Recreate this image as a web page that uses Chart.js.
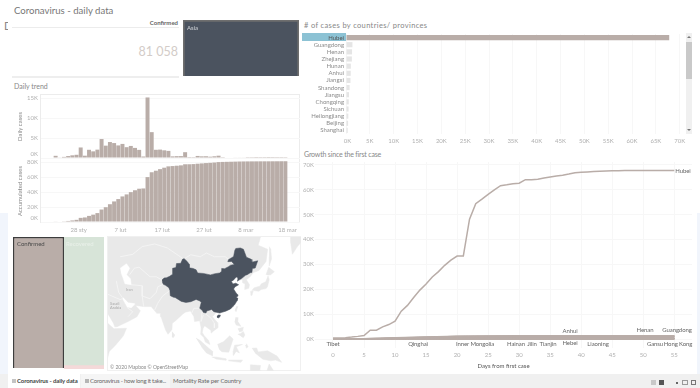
<!DOCTYPE html>
<html>
<head>
<meta charset="utf-8">
<script src="https://cdn.jsdelivr.net/npm/chart.js@4/dist/chart.umd.min.js"></script>
<style>
html, body { margin: 0; padding: 0; background: #fff; overflow: hidden; }
body { width: 700px; height: 388px; position: relative; font-family: Lato, sans-serif; color: #777; filter: blur(0.35px); }
canvas { position: absolute; }
.t { position: absolute; white-space: nowrap; line-height: 1; }
.box { position: absolute; box-sizing: border-box; }
.end { position: absolute; font-size: 6px; letter-spacing: -0.1px; color: #666; white-space: nowrap; line-height: 1; transform: translate(-50%, -50%); }
.arrow { position: absolute; width: 0; height: 0; border-left: 2px solid transparent; border-right: 2px solid transparent; }
</style>
</head>
<body>
<div class="box" style="left:0;top:213px;width:8px;height:161px;background:#f1f5fc"></div>
<div class="box" style="left:697px;top:213px;width:3px;height:161px;background:#f1f5fc"></div>

<div class="t" style="left:14px;top:6px;font-size:9.6px;color:#777">Coronavirus - daily data</div>
<div class="t" style="left:4px;top:20px;width:4px;overflow:hidden;font-size:11px;color:#888">D</div>

<div class="box" style="left:12px;top:27px;width:167px;height:1px;background:#ececec"></div>
<div class="box" style="left:12px;top:76px;width:167px;height:2px;background:#eeeeee"></div>
<div class="t" style="right:522px;top:20px;font-size:6px;font-weight:700;color:#666">Confirmed</div>
<div class="t" style="right:522px;top:46px;font-size:12.5px;color:#d3ccc8">81 058</div>

<div class="t" style="left:14px;top:83px;font-size:7px;color:#888">Daily trend</div>
<div class="box" style="left:40px;top:94px;width:260px;height:65px;border:1px solid #ececec"></div>
<div class="box" style="left:40px;top:158px;width:260px;height:65px;border:1px solid #ececec;border-top:none"></div>

<div class="t" style="left:304px;top:22px;font-size:7.5px;letter-spacing:0.35px;color:#888"># of cases by countries/ provinces</div>
<div class="box" style="left:302px;top:33px;width:44px;height:8px;background:#8cc2d4"></div>
<div class="box" style="left:686px;top:33px;width:6px;height:101px;background:#f0f0f0"></div>
<div class="box" style="left:686px;top:42px;width:6px;height:37px;background:#c9c9c9"></div>
<div class="arrow" style="left:687px;top:36px;border-bottom:2px solid #777"></div>
<div class="arrow" style="left:687px;top:129px;border-top:2px solid #777"></div>

<div class="t" style="left:304px;top:151px;font-size:7px;letter-spacing:-0.18px;color:#888">Growth since the first case</div>

<div class="box" style="left:107px;top:236px;width:194px;height:135px;border:1px solid #f0f0f0"></div>

<canvas id="dailyChart" width="287" height="70" style="left:13px;top:90px"></canvas>
<canvas id="totalChart" width="287" height="85" style="left:13px;top:155px"></canvas>
<canvas id="provinceChart" width="386" height="120" style="left:300px;top:30px"></canvas>
<canvas id="growthChart" width="400" height="215" style="left:300px;top:155px"></canvas>
<canvas id="asiaCell" width="118" height="58" style="left:182px;top:19px"></canvas>
<canvas id="confirmedCell" width="53" height="133" style="left:12px;top:236px"></canvas>
<canvas id="recoveredCell" width="40" height="132" style="left:64px;top:237px"></canvas>
<canvas id="mapChart" width="193" height="134" style="left:108px;top:237px"></canvas>

<div class="t" style="left:187px;top:25px;font-size:6px;color:#d5d8dc">Asia</div>
<div class="t" style="left:17px;top:241px;font-size:6px;color:#4a4a4a">Confirmed</div>
<div class="t" style="left:66px;top:241px;font-size:6px;color:#e9f0e9">Recovered</div>
<div class="t" style="left:110px;top:365px;font-size:5px;color:#888">© 2020 Mapbox © OpenStreetMap</div>
<div class="t" style="left:126px;top:288px;font-size:4px;color:#aaa">Iran</div>
<div class="t" style="left:110px;top:302px;font-size:4px;color:#aaa;line-height:1.1">Saudi<br>Arabia</div>

<div id="ends"></div>

<div class="box" style="left:0;top:374px;width:700px;height:14px;background:#f0f0f0"></div>
<div class="box" style="left:8px;top:374px;width:72px;height:14px;background:#fff"></div>
<div class="box" style="left:81px;top:374px;width:89px;height:14px;background:#f5f5f5"></div>
<div class="box" style="left:12px;top:379px;width:4px;height:4px;background:#c4c4c4"></div>
<div class="box" style="left:85px;top:379px;width:4px;height:4px;background:#b5b5b5"></div>
<div class="t" style="left:17px;top:378px;font-size:6px;letter-spacing:-0.1px;font-weight:700;color:#444">Coronavirus - daily data</div>
<div class="t" style="left:90px;top:378px;font-size:6px;letter-spacing:-0.22px;color:#666">Coronavirus - how long it take...</div>
<div class="t" style="left:173px;top:378px;font-size:6px;letter-spacing:-0.1px;color:#666">Mortality Rate per Country</div>
<div class="box" style="left:651px;top:380px;width:5px;height:5px;background:#c8c8c8"></div>
<div class="box" style="left:659px;top:380px;width:5px;height:5px;background:#555"></div>
<div class="box" style="left:676px;top:382px;width:2px;height:2px;background:#666"></div>
<div class="box" style="left:682px;top:380px;width:6px;height:5px;border:1px solid #999"></div>
<div class="box" style="left:691px;top:380px;width:5px;height:5px;border:1px solid #777"></div>

<script>
// daily trend
const dayLabels = ['19 sty','20 sty','21 sty','22 sty','23 sty','24 sty','25 sty','26 sty','27 sty','28 sty','29 sty','30 sty','31 sty',
    '1 lut','2 lut','3 lut','4 lut','5 lut','6 lut','7 lut','8 lut','9 lut','10 lut','11 lut','12 lut','13 lut','14 lut','15 lut','16 lut','17 lut','18 lut','19 lut','20 lut','21 lut','22 lut','23 lut','24 lut','25 lut','26 lut','27 lut','28 lut','29 lut',
    '1 mar','2 mar','3 mar','4 mar','5 mar','6 mar','7 mar','8 mar','9 mar','10 mar','11 mar','12 mar','13 mar','14 mar','15 mar','16 mar','17 mar','18 mar','19 mar','20 mar'];
const shownDays = ['28 sty','7 lut','17 lut','27 lut','8 mar','18 mar'];
const dailyCases = [null,null,null,548,95,277,486,669,802,2632,578,2054,1661,
    2089,4739,3086,3991,3733,3147,3523,2704,3015,2525,2032,373,15136,6463,2055,2100,1921,1777,408,458,473,1451,21,219,513,412,434,328,428,
    576,208,129,126,143,146,102,46,45,20,31,26,11,18,27,29,39];
const totalCases = [null,null,null,548,643,920,1406,2075,2877,5509,6087,8141,9802,
    11891,16630,19716,23707,27440,30587,34110,36814,39829,42354,44386,44759,59895,66358,68413,70513,72434,74211,74619,75077,75550,77001,77022,77241,77754,78166,78600,78928,79356,
    79932,80136,80261,80386,80537,80690,80770,80823,80860,80887,80921,80932,80945,80977,81003,81033,81058];
const dailyTicks = [0, 5000, 10000, 15000];
const totalTicks = [0, 20000, 40000, 60000, 80000];

// cases by province
const provinces = ['Hubei','Guangdong','Henan','Zhejiang','Hunan','Anhui','Jiangxi','Shandong','Jiangsu','Chongqing','Sichuan','Heilongjiang','Beijing','Shanghai'];
const provinceCases = [67800,1350,1273,1232,1018,990,936,761,631,576,539,482,442,358];
const provinceTicks = [0,5000,10000,15000,20000,25000,30000,35000,40000,45000,50000,55000,60000,65000,70000];

// growth since the first case
const hubeiGrowth = [444,444,549,761,1058,1423,3554,3554,4903,5806,7153,11177,13522,16678,19665,22112,24953,27100,29631,31728,33366,33366,48206,54406,56249,58182,59989,61682,62031,62442,62662,64084,64084,64287,64786,65187,65596,65914,66337,66907,67103,67217,67332,67466,67592,67666,67707,67743,67760,67773,67781,67786,67790,67794,67798,67799];
const sampleDays = [0,5,10,15,20,25,30,40,55];
const guangdong = [26,151,520,870,1120,1300,1330,1345,1350];
const henan = [5,128,422,764,1073,1212,1262,1272,1273];
const zhejiang = [5,104,296,728,1092,1162,1205,1215,1232];
const hunan = [4,69,277,593,838,968,1007,1018,1018];
const anhui = [1,70,237,480,779,950,986,990,990];
const jiangxi = [2,48,240,391,661,844,934,936,936];
const shandong = [2,46,178,307,459,541,749,758,761];
const jiangsu = [1,47,168,308,492,604,631,631,631];
const hebei = [1,33,90,157,218,281,311,318,318];
const hongKong = [2,10,15,24,42,62,81,105,170];
const tianjin = [4,14,32,69,96,120,135,136,136];
const hainan = [4,33,64,91,124,157,168,168,168];
const gansu = [2,7,24,51,79,90,91,127,133];
const liaoning = [2,21,45,73,105,117,121,125,125];
const jilin = [1,4,17,42,65,83,89,93,93];
const innerMongolia = [1,7,16,34,52,65,75,75,75];
const qinghai = [1,6,13,18,18,18,18,18,18];
const tibet = [1,1,1,1,1,1,1,1,1];
const otherProvinces = [guangdong,henan,zhejiang,hunan,anhui,jiangxi,shandong,jiangsu,hebei,hongKong,tianjin,hainan,gansu,liaoning,jilin,innerMongolia,qinghai,tibet];
const growthDays = [0,5,10,15,20,25,30,35,40,45,50,55];
const growthTicks = [0,10000,20000,30000,40000,50000,60000,70000];

// treemap cells
const asiaCases = [81058];
const confirmedCases = [81058];
const recoveredCases = [62300];
const deathCases = [1600];

// map outlines, [lon, lat]
const chinaOutline = [[73.6,39.4],[75,40.4],[76.5,40.5],[78.5,41.2],[80.2,42.1],[80.4,45],[82.5,45.3],[82.9,47.1],[85.6,47.2],[86.8,49],[87.8,49.2],[89.7,48],[91,46.8],[91,45.2],[93.5,44.9],[95.4,44.3],[96.4,42.8],[100,42.6],[104.5,41.9],[107.5,42.5],[110.4,42.8],[111.9,43.7],[111.7,44.9],[113.6,44.8],[116,45.7],[117.4,46.4],[119.8,46.7],[118,48],[115.6,47.9],[116.1,48.8],[117.8,49.5],[119.3,50.1],[120.1,52.6],[120.7,53.3],[123.6,53.5],[125.6,53],[127.5,49.8],[130.6,48.9],[131,47.7],[134.7,48.3],[133.1,45.1],[131.3,44.9],[131,43],[129.9,42.9],[128,42],[126.9,41.7],[124.4,40.1],[121.6,38.9],[122,40.5],[121,40.9],[119,39.2],[117.8,38.8],[118.9,37.4],[120.7,37.8],[122.5,37],[120.3,36],[119.3,34.8],[120.9,32.7],[121.9,31.7],[121.9,30.9],[120.9,30.3],[122,29.8],[121.5,28.3],[119.9,26],[119,25.2],[117.3,23.6],[114.2,22.3],[111.8,21.6],[110.5,21.2],[108.3,21.6],[106.7,22],[105.3,23.3],[102.2,22.4],[101.7,21.2],[100.1,21.5],[99.2,22.9],[97.7,24],[98.7,27.5],[97.5,28.3],[95.4,29.1],[92,27.8],[88.9,27.4],[86,28],[82,30.2],[81,30.3],[78.9,31.2],[78.7,34],[78,35.5],[75.9,36.7],[74.5,37.2],[73.8,38.5]];
const hainanOutline = [[108.7,19.3],[109.6,20],[110.9,20],[110.5,18.8],[109.5,18.2],[108.7,18.7]];
const caspianOutline = [[47,45],[51,47],[53,45],[51,42],[53.5,40],[54,37],[50,37.5],[49,40],[47.5,43]];
const eurasiaOutline = [[37,62],[139,62],[135,54.5],[141,53],[140,48],[135.5,44],[132,43],[129.8,41],[127.5,39.5],[129.4,37],[129,35.2],[126.4,34.5],[126.6,37.5],[125,38],[125,39.7],[121.6,39],[122,40.6],[121,40.9],[119,39.2],[117.8,38.8],[118.9,37.4],[120.7,37.8],[122.5,37],[120.3,36],[119.3,34.8],[120.9,32.7],[121.9,31.7],[120.9,30.3],[122,29.8],[119.9,26],[117.3,23.6],[114.2,22.3],[110.5,21.2],[108.3,21.6],[105.8,19],[108.9,15.5],[109.2,12],[106.7,10.3],[105,8.7],[104.8,10.5],[102.5,12.2],[100.9,13.4],[99.9,12],[99.3,9.2],[100.6,7],[103.4,4],[104.2,1.4],[101.3,3],[100.3,6],[98.3,8],[98.6,12],[97.7,16.5],[94.4,16],[94,19],[91.8,22.4],[88.5,21.7],[86.8,20.5],[82.3,16.5],[80.2,15],[80,11],[77.5,8],[76,10.5],[73,19],[72.6,21],[70.3,21],[69,22.5],[66.7,25],[61.6,25],[57,25.7],[56.5,27],[52,27.5],[49,30.3],[48.2,29.5],[50,26.7],[51.3,24.5],[54,24],[56.3,26],[59.8,22.5],[57.7,19],[52,16],[45,12.8],[43.5,12.7],[42.7,15],[39,21],[37,24]];
const kamchatkaOutline = [[156,62],[155.6,56],[156.8,51],[160,54],[163,56],[165,62]];
const africaOutline = [[37,18],[39,15],[43,11.5],[51,11.8],[49,7],[44,1],[40,-3],[39,-7],[37,-16]];
const islandOutlines = [
    [[130.9,34],[132.5,35.5],[136,36.2],[137,37.5],[139.8,38.5],[141.3,41.4],[142,39.5],[140.9,36],[140,35],[136.8,34.5],[135.5,33.6],[132,34]],
    [[140,42],[141.7,45.4],[145.3,43.4],[143,42],[141,41.8]],
    [[130,33.5],[131.8,33.7],[131,31.3],[130.2,31.4]],
    [[142,54],[143,53],[143.5,49],[142,46],[142,50]],
    [[121,25],[122,25],[120.9,22],[120.1,23]],
    [[120.5,18.5],[122.2,18.4],[122,16],[124,13],[121,13.8],[120,16]],
    [[122,8],[123.8,8.5],[125.5,9.8],[126.5,7.5],[125.5,5.8],[124,6.8]],
    [[122,11.5],[125.5,12.5],[125,10],[123,9.5]],
    [[109,1.5],[111.3,2.5],[113,3.3],[116.8,7],[119,5],[117.7,1],[116.2,-3.5],[111.8,-3.2],[110,-1.5]],
    [[95.3,5.6],[98,4],[103.5,-1],[106,-3],[105.8,-5.8],[102,-4],[98.8,0]],
    [[105.3,-6.6],[108.7,-6.7],[114.4,-7.7],[114.4,-8.7],[108,-7.8]],
    [[119.5,-5.5],[119,-3],[120,1],[125,1.5],[121,0],[123,-4],[121,-3]],
    [[131,-1],[134,-0.8],[135,-3.3],[141,-2.6],[147,-6],[150,-10],[146,-8.5],[143,-9],[138,-8],[133,-4]],
    [[80,9.7],[81.8,7.5],[81,6],[80,6.2]],
    [[116,-8.5],[125,-8.5],[124,-10],[116,-9]],
    [[127.5,2],[128.5,0],[127.5,-1],[127,1]],
    [[130,-16],[130,-11.5],[136.5,-12],[136,-15],[140,-17],[142,-11],[146,-17]]
];
const borderLines = [
    [[47,50],[55,51],[61,54],[69,55],[77,53.5],[83,51],[87,49.2]],
    [[87.8,49.2],[92,50.8],[98,50],[102,51.5],[107,50],[114,50],[116.1,48.8]],
    [[53,42],[56,45],[59,45.5],[66,41],[70,41],[73.6,39.4]],
    [[54,37],[61,36.5],[61,31],[62,25]],
    [[61,31],[66,29.5],[70,33],[71,36],[74.5,37.2]],
    [[69,23],[71,27],[74,31],[78.7,34]],
    [[48.5,30],[46,33],[44.5,39]],
    [[36,33],[39,32],[47,29],[48.2,29.5]],
    [[52,19],[55,22],[51.3,24.5]],
    [[97.7,24],[94,24],[92.5,21]],
    [[99.2,22],[98.5,16],[100,20]],
    [[101,21],[105,18],[107,15],[107,12]]
];

// end labels on the growth chart: name, x, y
const endLabels = [['Tibet',333,344],['Qinghai',418,344],['Inner Mongolia',475,344],['Hainan',516,344],['Jilin',532,344],['Tianjin',548,344],['Hebei',570,343],['Anhui',570,331],['Liaoning',598,344],['Henan',645,330],['Guangdong',677,330],['Gansu',655,344],['Hong Kong',678,344],['Hubei',683,171]];

const barColor = '#b9ada8';
const gridColor = '#f7f7f7';
const tickColor = '#b0b0b0';

Chart.defaults.font.family = 'Lato';
Chart.defaults.font.size = 6;
Chart.defaults.animation = false;
Chart.defaults.responsive = false;
Chart.defaults.plugins.legend.display = false;
Chart.defaults.plugins.tooltip.enabled = false;

const kLabel = v => (v / 1000) + 'K';

// fixed axis size, without the extra room chart.js keeps for the end labels
function fixWidth(width) {
    return axis => { axis.width = width; axis.paddingTop = 0; axis.paddingBottom = 0; };
}
function fixHeight(height) {
    return axis => { axis.height = height; axis.paddingLeft = 0; axis.paddingRight = 0; };
}

endLabels.forEach(([name, x, y]) => {
    const el = document.createElement('div');
    el.className = 'end';
    el.textContent = name;
    el.style.left = x + 'px';
    el.style.top = y + 'px';
    document.getElementById('ends').appendChild(el);
});

//daily bars
new Chart(document.getElementById('dailyChart'), {
    type: 'bar',
    data: {
        labels: dayLabels,
        datasets: [{ data: dailyCases, backgroundColor: barColor, categoryPercentage: 1, barPercentage: 0.95 }]
    },
    options: {
        layout: { padding: { top: 5, bottom: 2 } },
        scales: {
            x: { display: false },
            y: {
                min: 0, max: 15750,
                afterBuildTicks: axis => { axis.ticks = dailyTicks.map(value => ({ value })); },
                afterFit: fixWidth(28),
                title: { display: true, text: 'Daily cases', color: '#888', padding: { top: 3, bottom: 0 }, font: { size: 6 } },
                border: { display: false },
                grid: { color: gridColor, drawTicks: false },
                ticks: { color: tickColor, padding: 3, autoSkip: false, callback: v => v === 0 ? ['0K', ''] : kLabel(v) }
            }
        }
    }
});

//accumulated bars
new Chart(document.getElementById('totalChart'), {
    type: 'bar',
    data: {
        labels: dayLabels,
        datasets: [{ data: totalCases, backgroundColor: barColor, categoryPercentage: 1, barPercentage: 0.95 }]
    },
    options: {
        layout: { padding: { top: 5 } },
        scales: {
            x: {
                afterFit: fixHeight(18),
                grid: { display: false, drawTicks: false },
                border: { display: false },
                ticks: {
                    color: tickColor, padding: 4, autoSkip: false, maxRotation: 0, labelOffset: -2,
                    callback: function (v) {
                        const name = this.getLabelForValue(v);
                        return shownDays.includes(name) ? name : '';
                    }
                }
            },
            y: {
                min: 0, max: 82700,
                afterBuildTicks: axis => { axis.ticks = totalTicks.map(value => ({ value })); },
                afterFit: fixWidth(28),
                title: { display: true, text: 'Accumulated cases', color: '#888', padding: { top: 3, bottom: 0 }, font: { size: 6 } },
                border: { display: false },
                grid: { color: gridColor, drawTicks: false },
                ticks: { color: tickColor, padding: 3, autoSkip: false, callback: v => v === 0 ? ['0K', ''] : kLabel(v) }
            }
        }
    }
});

//province bars
new Chart(document.getElementById('provinceChart'), {
    type: 'bar',
    data: {
        labels: provinces,
        datasets: [{
            data: provinceCases,
            backgroundColor: ctx => ctx.dataIndex === 0 ? barColor : '#e5e5e5',
            categoryPercentage: 1,
            barPercentage: 0.72
        }]
    },
    options: {
        indexAxis: 'y',
        layout: { padding: { top: 4, right: 2 } },
        scales: {
            x: {
                min: 0, max: 70900,
                afterBuildTicks: axis => { axis.ticks = provinceTicks.map(value => ({ value })); },
                afterFit: fixHeight(16),
                border: { display: false },
                grid: { color: gridColor, drawTicks: false },
                ticks: { color: tickColor, padding: 3, maxRotation: 0, autoSkip: false, callback: v => v === 0 ? '\u00a0\u00a00K' : kLabel(v) }
            },
            y: {
                afterFit: fixWidth(46),
                border: { display: false },
                grid: { display: false, drawTicks: false },
                ticks: { color: ctx => ctx.index === 0 ? '#555' : '#8c8c8c', padding: 2, autoSkip: false }
            }
        }
    }
});

//growth lines
const hubeiPoints = hubeiGrowth.map((y, x) => ({ x, y }));
const otherSets = otherProvinces.map(values => ({
    data: values.map((y, i) => ({ x: sampleDays[i], y })),
    borderColor: barColor,
    borderWidth: 1.2,
    pointRadius: 0
}));
new Chart(document.getElementById('growthChart'), {
    type: 'line',
    data: {
        datasets: [{ data: hubeiPoints, borderColor: barColor, borderWidth: 1.5, pointRadius: 0 }].concat(otherSets)
    },
    options: {
        layout: { padding: { top: 7, right: 8 } },
        scales: {
            x: {
                type: 'linear',
                min: -2.9, max: 57.85,
                afterBuildTicks: axis => { axis.ticks = growthDays.map(value => ({ value })); },
                afterFit: fixHeight(22),
                title: { display: true, text: 'Days from first case', color: '#555', padding: 0, font: { size: 6 } },
                border: { display: false },
                grid: { color: gridColor, drawTicks: false },
                ticks: { color: tickColor, padding: 3, maxRotation: 0 }
            },
            y: {
                min: -3620, max: 71200,
                afterBuildTicks: axis => { axis.ticks = growthTicks.map(value => ({ value })); },
                afterFit: fixWidth(15),
                border: { display: false },
                grid: { color: gridColor, drawTicks: false },
                ticks: { color: tickColor, padding: 1, autoSkip: false, callback: kLabel }
            }
        }
    }
});

//treemap cells drawn as single full size bars
function cellChart(id, datasets, padding) {
    const total = datasets.reduce((sum, d) => sum + d.data[0], 0);
    return new Chart(document.getElementById(id), {
        type: 'bar',
        data: { labels: [''], datasets },
        options: {
            layout: { padding },
            scales: {
                x: { display: false, stacked: true },
                y: { display: false, stacked: true, min: 0, max: total }
            }
        }
    });
}
const fullBar = { categoryPercentage: 1, barPercentage: 1 };
cellChart('asiaCell', [{ data: asiaCases, backgroundColor: '#4b535f', borderColor: '#6e6e6e', borderWidth: 2, ...fullBar }], 1);
cellChart('confirmedCell', [{ data: confirmedCases, backgroundColor: barColor, borderColor: '#3d3d3d', borderWidth: 1.5, ...fullBar }], 1);
cellChart('recoveredCell', [
    { data: deathCases, backgroundColor: '#f4d9d9', ...fullBar },
    { data: recoveredCases, backgroundColor: '#d7e4d8', ...fullBar }
], 0);

//map
const landColor = '#e9e9e9';
const mercator = lat => Math.log(Math.tan(Math.PI / 4 + lat * Math.PI / 360)) * 180 / Math.PI;
const toPoints = outline => outline.map(([lon, lat]) => ({ x: lon, y: mercator(lat) }));
const shape = (outline, color) => ({
    data: toPoints(outline),
    showLine: true,
    fill: 'shape',
    backgroundColor: color,
    borderColor: color,
    borderWidth: 0.5,
    pointRadius: 0
});
const border = line => ({
    data: toPoints(line),
    showLine: true,
    borderColor: '#f8f8f8',
    borderWidth: 0.7,
    pointRadius: 0
});
new Chart(document.getElementById('mapChart'), {
    type: 'scatter',
    data: {
        datasets: [
            shape(chinaOutline, '#4b535f'),
            shape(hainanOutline, '#4b535f'),
            shape(caspianOutline, '#ffffff')
        ].concat(borderLines.map(border), [
            shape(eurasiaOutline, landColor),
            shape(kamchatkaOutline, landColor),
            shape(africaOutline, landColor)
        ], islandOutlines.map(o => shape(o, landColor)))
    },
    options: {
        scales: {
            x: { display: false, min: 39.2, max: 162.3 },
            y: { display: false, min: -15.6, max: 70.6 }
        }
    }
});
</script>
</body>
</html>
